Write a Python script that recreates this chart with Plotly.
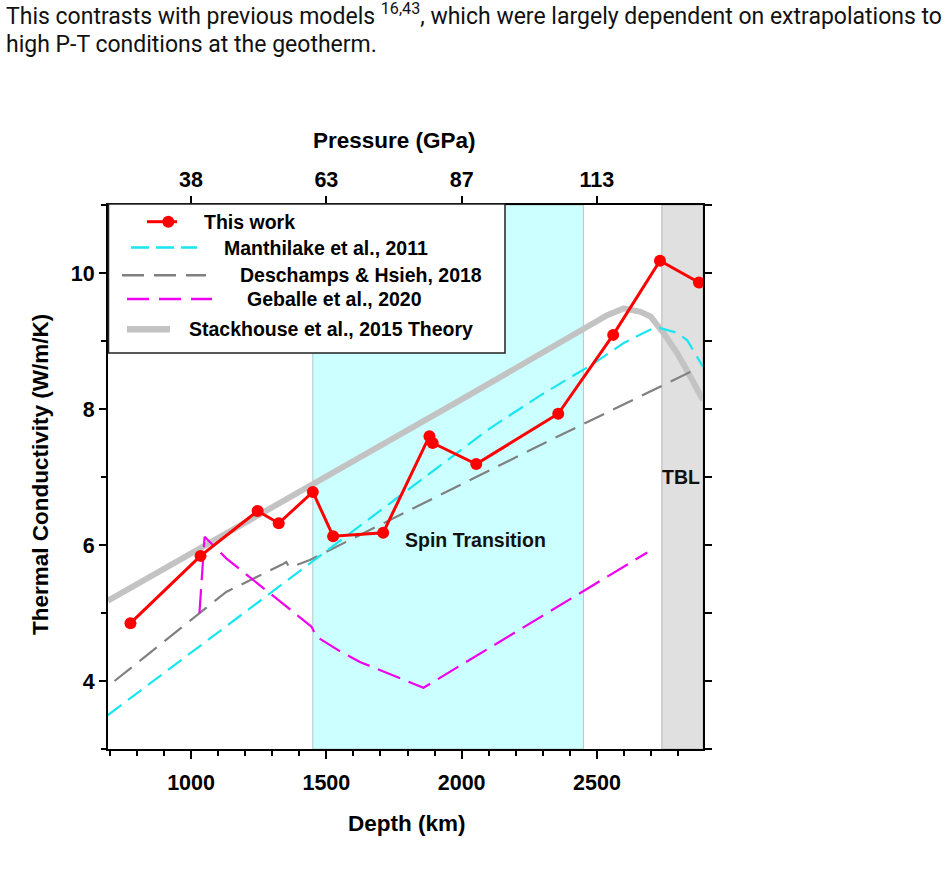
import plotly.graph_objects as go

# ---------------- data ----------------
depth_this = [776, 1035, 1246, 1324, 1450, 1525, 1710, 1881, 1893, 2054, 2357, 2560, 2733, 2877]
k_this = [4.85, 5.84, 6.50, 6.32, 6.78, 6.13, 6.18, 7.60, 7.50, 7.19, 7.93, 9.09, 10.18, 9.86]

depth_manth = [693, 1445, 2106, 2291, 2476, 2599, 2698, 2735, 2797, 2834, 2892]
k_manth = [3.50, 5.75, 7.72, 8.20, 8.64, 8.97, 9.17, 9.19, 9.12, 9.01, 8.62]

depth_desch = [717, 1130, 1340, 1352, 1362, 1385, 1439, 2106, 2316, 2858]
k_desch = [4.00, 5.31, 5.72, 5.75, 5.68, 5.70, 5.78, 7.10, 7.52, 8.57]

depth_geb = [1031, 1050, 1131, 1445, 1464, 1545, 1624, 1698, 1809, 1859, 2686]
k_geb = [5.00, 6.12, 5.80, 4.80, 4.65, 4.45, 4.28, 4.16, 3.99, 3.90, 5.89]

depth_stack = [693, 1000, 1500, 2000, 2538, 2599, 2661, 2698, 2747, 2797, 2846, 2892]
k_stack = [5.18, 5.87, 7.01, 8.14, 9.38, 9.48, 9.43, 9.36, 9.11, 8.82, 8.47, 8.13]

spin_range = [1450, 2450]
tbl_range = [2740, 2892]

depth_range = [693, 2892]
k_range = [3, 11]

pressure_tick_depths = [1000, 1500, 2000, 2500]
pressure_tick_labels = ["38", "63", "87", "113"]

legend_names = ["This work", "Manthilake et al., 2011", "Deschamps & Hsieh, 2018",
                "Geballe et al., 2020", "Stackhouse et al., 2015 Theory"]

# ---------------- styling ----------------
W, H = 948, 889
L, R, T, B = 108, 245, 205, 140
PW = W - L - R
PH = H - T - B
FONT = "Liberation Sans, Arial, sans-serif"
TEXTFONT = "Roboto, Liberation Sans, sans-serif"

RED = "#ff0000"
CYAN = "#19e6f0"
GREY = "#808080"
MAG = "#ee00ee"
THEORY = "#c3c3c3"


def px_x(p):
    return (p - L) / PW


def px_y(p):
    return (T + PH - p) / PH


fig = go.Figure()

fig.add_trace(go.Scatter(x=depth_stack, y=k_stack, mode="lines",
                         line=dict(color=THEORY, width=6), showlegend=False, hoverinfo="skip"))
fig.add_trace(go.Scatter(x=depth_desch, y=k_desch, mode="lines",
                         line=dict(color=GREY, width=2.2, dash="22px,10px"), showlegend=False))
fig.add_trace(go.Scatter(x=depth_manth, y=k_manth, mode="lines",
                         line=dict(color=CYAN, width=2.2, dash="17px,8px"), showlegend=False))
fig.add_trace(go.Scatter(x=depth_geb, y=k_geb, mode="lines",
                         line=dict(color=MAG, width=2.2, dash="24px,9px"), showlegend=False))
fig.add_trace(go.Scatter(x=depth_this, y=k_this, mode="lines+markers",
                         line=dict(color=RED, width=3), marker=dict(color=RED, size=12),
                         showlegend=False))
# invisible trace so the top/right axes are drawn
fig.add_trace(go.Scatter(x=[depth_range[0]], y=[k_range[0]], xaxis="x2", yaxis="y2", mode="markers",
                         marker=dict(opacity=0), showlegend=False, hoverinfo="skip"))

shapes = [
    dict(type="rect", xref="x", yref="paper", x0=spin_range[0], x1=spin_range[1], y0=0, y1=1,
         fillcolor="#ccffff", line=dict(color="#b4c8c8", width=1), layer="below"),
    dict(type="rect", xref="x", yref="paper", x0=tbl_range[0], x1=tbl_range[1], y0=0, y1=1,
         fillcolor="#e0e0e0", line=dict(color="#b8b8b8", width=1), layer="below"),
    # legend box
    dict(type="rect", xref="paper", yref="paper", x0=px_x(108.5), x1=px_x(505), y0=px_y(353), y1=px_y(204),
         fillcolor="white", line=dict(color="#222222", width=1.5), layer="above"),
]

# legend samples
leg_rows_y = [221.7, 247.5, 275.3, 299.0, 329.3]
leg_line_x = [(147, 177), (131, 197), (122, 206), (127, 212), (127, 170)]
leg_text_x = [201.7, 221.7, 238.3, 245.0, 187.3]
leg_styles = [dict(color=RED, width=3), dict(color=CYAN, width=2.5, dash="18px,7px"),
              dict(color=GREY, width=2.5, dash="22px,10px"), dict(color=MAG, width=2.5, dash="22px,10px"),
              dict(color=THEORY, width=6.5)]
for (x0, x1), yy, st in zip(leg_line_x, leg_rows_y, leg_styles):
    shapes.append(dict(type="line", xref="paper", yref="paper", x0=px_x(x0), x1=px_x(x1),
                       y0=px_y(yy), y1=px_y(yy), line=st, layer="above"))
shapes.append(dict(type="circle", xref="paper", yref="paper",
                   x0=px_x(168.3 - 6), x1=px_x(168.3 + 6), y0=px_y(221.7 + 6), y1=px_y(221.7 - 6),
                   fillcolor=RED, line=dict(color=RED, width=0), layer="above"))

annotations = []
for name, tx, yy in zip(legend_names, leg_text_x, leg_rows_y):
    annotations.append(dict(xref="paper", yref="paper", x=px_x(tx), y=px_y(yy), text=name,
                            showarrow=False, xanchor="left", yanchor="middle",
                            font=dict(family=FONT, size=19.5, color="black", weight="bold")))

annotations += [
    dict(x=2053, y=6.08, xref="x", yref="y", text="Spin Transition", showarrow=False,
         font=dict(family=FONT, size=19.5, color="#111111", weight="bold")),
    dict(x=2809, y=7.0, xref="x", yref="y", text="TBL", showarrow=False,
         font=dict(family=FONT, size=19.5, color="#111111", weight="bold")),
    dict(xref="paper", yref="paper", x=px_x(394.5), y=px_y(140.7), text="Pressure (GPa)",
         showarrow=False, xanchor="center", yanchor="middle",
         font=dict(family=FONT, size=22.5, color="black", weight="bold")),
    dict(xref="paper", yref="paper", x=px_x(407), y=px_y(823), text="Depth (km)",
         showarrow=False, xanchor="center", yanchor="middle",
         font=dict(family=FONT, size=22.5, color="black", weight="bold")),
    dict(xref="paper", yref="paper", x=px_x(40), y=px_y(475), text="Thermal Conductivity (W/m/K)",
         showarrow=False, xanchor="center", yanchor="middle", textangle=-90,
         font=dict(family=FONT, size=22.5, color="black", weight="bold")),
    dict(xref="paper", yref="paper", x=px_x(4), y=px_y(14), xanchor="left", yanchor="middle",
         text="This contrasts with previous models <sup>16,43</sup>, which were largely dependent on extrapolations to",
         showarrow=False, font=dict(family=TEXTFONT, size=23, color="#111111")),
    dict(xref="paper", yref="paper", x=px_x(4), y=px_y(45), xanchor="left", yanchor="middle",
         text="high P-T conditions at the geotherm.",
         showarrow=False, font=dict(family=TEXTFONT, size=23, color="#111111")),
]

tickfont = dict(family=FONT, size=21.5, color="black", weight="bold")

fig.update_layout(
    width=W, height=H,
    margin=dict(l=L, r=R, t=T, b=B, pad=0),
    paper_bgcolor="white", plot_bgcolor="white",
    showlegend=False,
    shapes=shapes,
    annotations=annotations,
    xaxis=dict(range=depth_range, showgrid=False, zeroline=False, showline=True, linecolor="black",
               linewidth=2, ticks="outside", ticklen=8, tickwidth=1.5, tickcolor="black",
               tickmode="linear", tick0=0, dtick=500, tickfont=tickfont, ticklabelstandoff=5,
               minor=dict(ticks="outside", ticklen=5, tickwidth=1.5, tickcolor="black", dtick=100, tick0=0,
                          showgrid=False)),
    xaxis2=dict(range=depth_range, overlaying="x", side="top", anchor="y", showgrid=False, zeroline=False,
                showline=True, linecolor="black", linewidth=2, ticks="outside", ticklen=7, tickwidth=1.5,
                tickcolor="black", tickmode="array", tickvals=pressure_tick_depths,
                ticktext=pressure_tick_labels, tickfont=tickfont),
    yaxis=dict(range=k_range, showgrid=False, zeroline=False, showline=True, linecolor="black",
               linewidth=2, ticks="outside", ticklen=7, tickwidth=1.5, tickcolor="black",
               tickmode="linear", tick0=0, dtick=2, tickfont=tickfont,
               minor=dict(ticks="outside", ticklen=5, tickwidth=1.5, tickcolor="black", dtick=1, tick0=0,
                          showgrid=False)),
    yaxis2=dict(range=k_range, overlaying="y", side="right", anchor="x", showgrid=False, zeroline=False,
                showline=True, linecolor="black", linewidth=2, ticks="outside", ticklen=7, tickwidth=1.5,
                tickcolor="black", tickmode="linear", tick0=0, dtick=1, showticklabels=False),
)

fig.write_html("out.html")
